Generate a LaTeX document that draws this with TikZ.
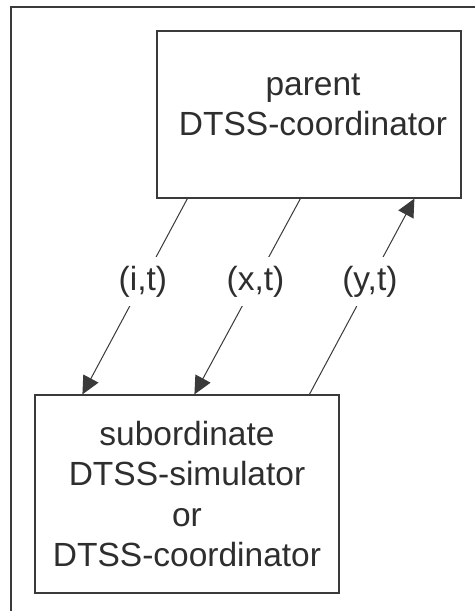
\documentclass[tikz,border=0pt]{standalone}
\usepackage{fontspec}
\setmainfont{Liberation Sans}
\usetikzlibrary{arrows.meta,calc}
\definecolor{ink}{HTML}{2E2E2E}
\definecolor{linec}{HTML}{3A3A3A}
\begin{document}
\begin{tikzpicture}[x=1pt,y=-1pt,
  bigfont/.style={font=\fontsize{33.5}{40.5}\selectfont},
  box/.style={draw=linec,line width=1.2pt,minimum width=304pt,inner sep=0pt},
  txt/.style={bigfont,text=ink,align=center,inner sep=0pt},
  arr/.style={draw=linec,line width=1pt,-{Triangle[length=18pt,width=17pt]}},
  lab/.style={bigfont,text=ink,fill=white,inner xsep=2pt,inner ysep=9pt},
  frame/.style={draw=linec,line width=1.3pt}]
\useasboundingbox[fill=white] (0,0) rectangle (475,611);
% outer frame (top and left edges)
\coordinate (fbl) at (11,611);
\coordinate (ftl) at (11,7);
\coordinate (ftr) at (475,7);
\draw[frame] (fbl) -- (ftl) -- (ftr);
% boxes
\node[box,minimum height=167pt] (parent) at (309,114.5) {};
\node[txt] (parenttext) at (313,105) {parent\\DTSS-coordinator};
\node[box,txt,draw=linec,line width=1.2pt,minimum width=304pt,minimum height=198pt] (sub) at (187,494)
  {subordinate\\DTSS-simulator\\or\\DTSS-coordinator};
% connectors
\draw[arr] ($(parent.south west)+(31,0)$) -- node[lab,pos=0.424] (it) {(i,t)} ($(sub.north west)+(48,0)$);
\draw[arr] ($(parent.south west)+(144,0)$) -- node[lab,pos=0.424] (xt) {(x,t)} ($(sub.north west)+(160,0)$);
\draw[arr] ($(sub.north west)+(275,0)$) -- node[lab,pos=0.576] (yt) {(y,t)} ($(parent.south west)+(258,0)$);
\end{tikzpicture}
\end{document}
